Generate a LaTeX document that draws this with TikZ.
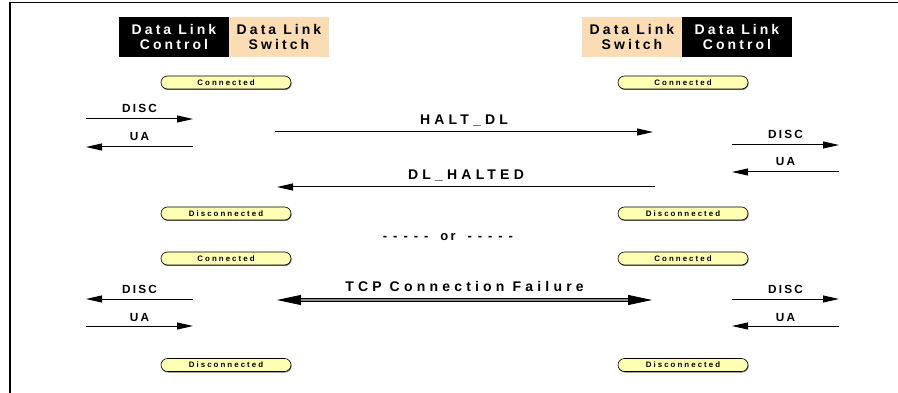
\documentclass[tikz,border=0pt]{standalone}
\usepackage{fontspec}
\setmainfont{Liberation Sans}
\newfontfamily\hdrfont[LetterSpace=22]{Liberation Sans}
\newfontfamily\msgfont[LetterSpace=18]{Liberation Sans}
\newfontfamily\widefont[LetterSpace=30]{Liberation Sans}
\newfontfamily\capfont[LetterSpace=26]{Liberation Sans}
\usetikzlibrary{arrows.meta,shadows}
\definecolor{dlswtan}{RGB}{252,220,180}
\definecolor{capyellow}{RGB}{255,255,180}

\tikzset{
  dlcbox/.style={fill=black, text=white, minimum width=110pt, minimum height=40pt, inner sep=0pt, align=center,
    font=\hdrfont\bfseries\fontsize{14}{15}\selectfont},
  dlswbox/.style={fill=dlswtan, text=black, minimum width=100pt, minimum height=40pt, inner sep=0pt, align=center,
    font=\hdrfont\bfseries\fontsize{14}{15}\selectfont},
  dlstate/.style={draw=black, line width=0.6pt, fill=capyellow, rounded corners=6.5pt, minimum width=130pt, minimum height=13pt,
    inner sep=0pt, font=\capfont\bfseries\fontsize{7.9}{8}\selectfont,
    drop shadow={shadow xshift=0.6pt, shadow yshift=-1pt, fill=black!55, opacity=1}},
  msgarrow/.style={line width=1pt, -{Triangle[length=16pt,width=7pt]}},
  failarrow/.style={line width=0.8pt, double=black!45, double distance=2.2pt,
    {Triangle[length=24pt,width=10pt]}-{Triangle[length=24pt,width=10pt]}},
  msglabel/.style={anchor=base, yshift=6pt, font=\msgfont\bfseries\fontsize{11.8}{12}\selectfont},
  biglabel/.style={anchor=base, yshift=7pt, font=\widefont\bfseries\fontsize{14}{15}\selectfont}
}

\begin{document}
\begin{tikzpicture}[x=1pt,y=-1pt]
		%%%%% FRAME %%%%%
		\useasboundingbox (0,0) rectangle (898,393);
		\draw[line width=1.3pt] (9,2.5) -- (898,2.5);
		\draw[line width=2pt] (10,2) -- (10,393);
		
		%%%%% HEADERS %%%%%
		\node[dlcbox] (dlcL) at (174,37) {Data Link\\Control};
		\node[dlswbox] (dlswL) at (279,37) {Data Link\\Switch};
		\node[dlswbox] (dlswR) at (632,37) {Data Link\\Switch};
		\node[dlcbox] (dlcR) at (737,37) {Data Link\\Control};
		
		%%%%% STATES %%%%%
		\node[dlstate] (connL1) at (226,82.5) {Connected};
		\node[dlstate] (connR1) at (683,82.5) {Connected};
		\node[dlstate] (discL1) at (226,213.5) {Disconnected};
		\node[dlstate] (discR1) at (683,213.5) {Disconnected};
		\node[dlstate] (connL2) at (226,258.5) {Connected};
		\node[dlstate] (connR2) at (683,258.5) {Connected};
		\node[dlstate] (discL2) at (226,365) {Disconnected};
		\node[dlstate] (discR2) at (683,365) {Disconnected};
		
		%%%%% HALT %%%%%
		\coordinate (lA1) at (86,119);  \coordinate (lB1) at (193,119);
		\coordinate (lA2) at (86,147);  \coordinate (lB2) at (193,147);
		\coordinate (mA1) at (275,132); \coordinate (mB1) at (653,132);
		\coordinate (mA2) at (277,187); \coordinate (mB2) at (655,187);
		\coordinate (rA1) at (732,145); \coordinate (rB1) at (839,145);
		\coordinate (rA2) at (732,172); \coordinate (rB2) at (839,172);
		
		\draw[msgarrow] (lA1) -- node[msglabel] {DISC} (lB1);
		\draw[msgarrow] (lB2) -- node[msglabel] {UA} (lA2);
		\draw[msgarrow] (mA1) -- node[biglabel] {HALT\_DL} (mB1);
		\draw[msgarrow] (mB2) -- node[biglabel] {DL\_HALTED} (mA2);
		\draw[msgarrow] (rA1) -- node[msglabel] {DISC} (rB1);
		\draw[msgarrow] (rB2) -- node[msglabel] {UA} (rA2);
		
		\node[font=\msgfont\bfseries\fontsize{13}{14}\selectfont] (orline) at (448,237) {- - - - -\ \ or\ \ - - - - -};
		
		%%%%% FAILURE %%%%%
		\coordinate (lA3) at (86,299);  \coordinate (lB3) at (193,299);
		\coordinate (lA4) at (86,326);  \coordinate (lB4) at (193,326);
		\coordinate (mA3) at (277,300); \coordinate (mB3) at (652,300);
		\coordinate (rA3) at (732,299); \coordinate (rB3) at (839,299);
		\coordinate (rA4) at (732,326); \coordinate (rB4) at (839,326);
		
		\draw[msgarrow] (lB3) -- node[msglabel] {DISC} (lA3);
		\draw[msgarrow] (lA4) -- node[msglabel, yshift=-1pt] {UA} (lB4);
		\draw[failarrow] (mA3) -- node[biglabel, yshift=2pt] {TCP Connection Failure} (mB3);
		\draw[msgarrow] (rA3) -- node[msglabel] {DISC} (rB3);
		\draw[msgarrow] (rB4) -- node[msglabel, yshift=-1pt] {UA} (rA4);
		
		%%%%% END %%%%%
	\end{tikzpicture}
\end{document}
